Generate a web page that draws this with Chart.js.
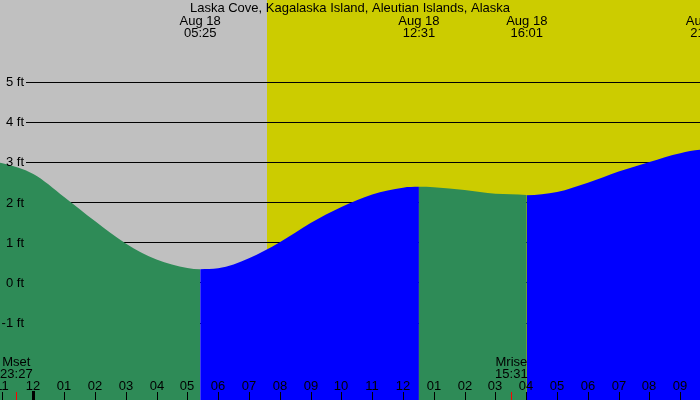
<!DOCTYPE html>
<html>
<head>
<meta charset="utf-8">
<script src="https://cdn.jsdelivr.net/npm/chart.js@4/dist/chart.umd.min.js"></script>
<style>
  html, body { margin: 0; padding: 0; background: #c0c0c0; }
  #wrap { width: 700px; height: 400px; }
</style>
</head>
<body>
<div id="wrap"><canvas id="tideChart" width="700" height="400"></canvas></div>
<script>
const stationName = "Laska Cove, Kagalaska Island, Aleutian Islands, Alaska";
const tideDate = "Aug 18";

// hours after midnight Aug 18, height in feet
const tideHours = [-2, -1, 0, 1, 2, 3, 4, 5, 5.417, 6, 7, 8, 9, 10, 11, 12, 12.517, 13, 14, 15, 16, 16.017, 17, 18, 19, 20, 21, 21.85, 22];
const tideFeet  = [3.05, 2.97, 2.7, 2.13, 1.53, 0.97, 0.57, 0.36, 0.33, 0.35, 0.6, 1.0, 1.48, 1.88, 2.19, 2.36, 2.38, 2.37, 2.3, 2.21, 2.175, 2.17, 2.25, 2.48, 2.76, 3.0, 3.22, 3.31, 3.31];

// high / low turns
const turnHours = [5.417, 12.517, 16.017, 21.85];
const turnTimes = ["05:25", "12:31", "16:01", "21:51"];

const sunriseHour = 7.6;

const moonLabels = ["Mset", "Mrise"];
const moonTimes  = ["23:27", "15:31"];
const moonHours  = [-0.55, 15.517];

const hourTicks  = [-1, 0, 1, 2, 3, 4, 5, 6, 7, 8, 9, 10, 11, 12, 13, 14, 15, 16, 17, 18, 19, 20, 21];
const hourLabels = ["11", "12", "01", "02", "03", "04", "05", "06", "07", "08", "09", "10", "11", "12", "01", "02", "03", "04", "05", "06", "07", "08", "09"];

const feetTicks = [5, 4, 3, 2, 1, 0, -1];

const GREY = "#c0c0c0";
const YELLOW = "#cccc00";
const GREEN = "#2e8b57";
const BLUE = "#0000ff";
const FONT = '13px "Liberation Sans", Arial, sans-serif';

function rising(h) {
  let n = 0;
  turnHours.forEach(t => { if (h >= t - 1e-6) n++; });
  return n % 2 === 1;
}

const decor = {
  id: "decor",
  beforeDraw(chart) {
    const { ctx, chartArea: a, scales: { x } } = chart;
    const sx = Math.round(x.getPixelForValue(sunriseHour));
    ctx.save();
    ctx.fillStyle = GREY;
    ctx.fillRect(a.left, a.top, sx - a.left, a.bottom - a.top);
    ctx.fillStyle = YELLOW;
    ctx.fillRect(sx, a.top, a.right - sx, a.bottom - a.top);
    ctx.restore();
  },
  beforeDatasetsDraw(chart) {
    const { ctx, chartArea: a, scales: { y } } = chart;
    ctx.save();
    ctx.strokeStyle = "#000";
    ctx.lineWidth = 1;
    feetTicks.forEach(v => {
      const py = Math.round(y.getPixelForValue(v)) + 0.5;
      ctx.beginPath();
      ctx.moveTo(26, py);
      ctx.lineTo(a.right, py);
      ctx.stroke();
    });
    ctx.restore();
  },
  afterDatasetsDraw(chart) {
    const { ctx, chartArea: a, scales: { x, y } } = chart;
    ctx.save();
    ctx.font = FONT;
    ctx.fillStyle = "#000";
    ctx.textBaseline = "alphabetic";

    // feet labels
    ctx.textAlign = "right";
    feetTicks.forEach(v => {
      ctx.fillText(v + " ft", 24, y.getPixelForValue(v) + 4.5);
    });

    // title and tide turn times
    ctx.textAlign = "center";
    ctx.fillText(stationName, 350, 12);
    turnHours.forEach((h, i) => {
      const px = x.getPixelForValue(h);
      ctx.fillText(tideDate, px, 25);
      ctx.fillText(turnTimes[i], px, 37);
    });

    // hour ticks
    hourTicks.forEach((h, i) => {
      const px = Math.round(x.getPixelForValue(h));
      ctx.fillText(hourLabels[i], px, 390);
      if (h === 0) {
        ctx.fillRect(px - 1, 391, 3, a.bottom - 391);
      } else {
        ctx.fillRect(px, 392, 1, a.bottom - 392);
      }
    });

    // moon rise / set
    moonHours.forEach((h, i) => {
      const px = x.getPixelForValue(h);
      ctx.fillStyle = "#000";
      ctx.fillText(moonLabels[i], px, 366);
      ctx.fillText(moonTimes[i], px, 378);
      ctx.fillStyle = "#ff0000";
      ctx.fillRect(Math.round(px), 392, 1, a.bottom - 392);
    });
    ctx.restore();
  }
};

new Chart(document.getElementById("tideChart"), {
  type: "line",
  data: {
    datasets: [{
      data: tideHours.map((h, i) => ({ x: h, y: tideFeet[i] })),
      fill: "start",
      backgroundColor: GREEN,
      borderColor: "rgba(0,0,0,0)",
      borderWidth: 0,
      pointRadius: 0,
      cubicInterpolationMode: "monotone",
      segment: {
        backgroundColor: c => rising(c.p0.parsed.x) ? BLUE : GREEN
      }
    }]
  },
  options: {
    responsive: false,
    animation: false,
    layout: { padding: 0 },
    plugins: {
      legend: { display: false },
      tooltip: { enabled: false }
    },
    scales: {
      x: { type: "linear", min: -1.081, max: 21.64, display: false },
      y: { min: -2.929, max: 7.034, display: false }
    }
  },
  plugins: [decor]
});
</script>
</body>
</html>
